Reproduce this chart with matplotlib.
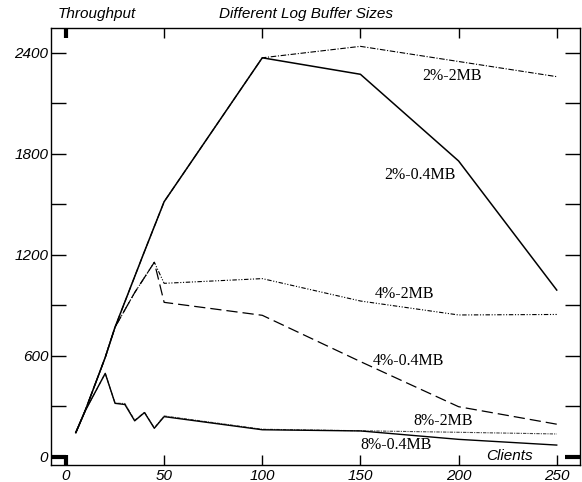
import numpy as np
import matplotlib
matplotlib.use("Agg")
import matplotlib.pyplot as plt

# clients / throughput
x_2pct = [5, 10, 20, 25, 40, 50, 100, 150, 200, 250]
y_2pct_2mb = [143, 280, 590, 770, 1220, 1515, 2370, 2438, 2348, 2258]
y_2pct_04mb = [143, 280, 590, 770, 1220, 1515, 2370, 2272, 1757, 990]

x_4pct = [5, 10, 20, 25, 35, 45, 50, 100, 150, 200, 250]
y_4pct_2mb = [143, 280, 590, 770, 975, 1155, 1030, 1058, 925, 842, 845]
y_4pct_04mb = [143, 280, 590, 770, 975, 1155, 917, 840, 565, 297, 193]

x_8pct = [5, 10, 15, 20, 25, 30, 35, 40, 45, 50, 100, 150, 200, 250]
y_8pct_2mb = [143, 277, 386, 495, 318, 316, 216, 264, 171, 242, 163, 154, 145, 135]
y_8pct_04mb = [143, 277, 386, 495, 317, 310, 213, 262, 169, 238, 160, 153, 103, 69]

x_ticks = [0, 50, 100, 150, 200, 250]
y_ticks = [0, 600, 1200, 1800, 2400]

line_labels = ["2%-2MB", "2%-0.4MB", "4%-2MB", "4%-0.4MB", "8%-2MB", "8%-0.4MB"]
label_pos = [(196.6, 2262), (180.3, 1674), (172.7, 967), (174.5, 569), (192, 212), (168, 70)]

sans = "Liberation Sans"
serif = "Liberation Serif"

fig = plt.figure(figsize=(5.82, 4.82), dpi=100)
ax = fig.add_axes([0.0876, 0.0353, 0.9098, 0.9073])

ax.plot(x_2pct, y_2pct_2mb, color="black", lw=0.8, ls=(0, (5, 1.5, 1, 1.5)))
ax.plot(x_2pct, y_2pct_04mb, color="black", lw=1.1)
ax.plot(x_4pct, y_4pct_2mb, color="black", lw=0.8, ls=(0, (4, 1.5, 1, 1.5, 1, 1.5)))
ax.plot(x_4pct, y_4pct_04mb, color="black", lw=0.9, ls=(0, (9, 4)))
ax.plot(x_8pct, y_8pct_2mb, color="#444444", lw=0.8, ls=(0, (3, 1, 1, 1)))
ax.plot(x_8pct, y_8pct_04mb, color="black", lw=1.0)

for lab, (lx, ly) in zip(line_labels, label_pos):
    ax.text(lx, ly, lab, fontfamily=serif, fontsize=11.5, ha="center", va="center")

ax.set_xlim(-7.64, 262.1)
ax.set_ylim(-49.3, 2549)

ax.set_xticks(x_ticks)
ax.set_yticks(y_ticks)
ax.set_yticks(np.arange(300, 2600, 600), minor=True)
ax.set_xticklabels([str(v) for v in x_ticks], fontfamily=sans, style="italic", fontsize=11)
ax.set_yticklabels([str(v) for v in y_ticks], fontfamily=sans, style="italic", fontsize=11)

ax.tick_params(axis="x", which="major", direction="in", length=7.2, width=1,
               top=True, bottom=True, pad=3)
ax.tick_params(axis="y", which="both", direction="in", length=10.8, width=1,
               left=True, right=True, pad=2)

# the origin ticks are drawn heavy
ax.xaxis.get_major_ticks()[0].tick1line.set_markeredgewidth(3)
ax.xaxis.get_major_ticks()[0].tick2line.set_markeredgewidth(3)
ax.yaxis.get_major_ticks()[0].tick1line.set_markeredgewidth(3)
ax.yaxis.get_major_ticks()[0].tick2line.set_markeredgewidth(3)

for sp in ax.spines.values():
    sp.set_linewidth(1)

fig.text(58 / 582, 1 - 14 / 482, "Throughput", fontfamily=sans, style="italic",
         fontsize=11, ha="left", va="center")
fig.text(306 / 582, 1 - 14 / 482, "Different Log Buffer Sizes", fontfamily=sans,
         style="italic", fontsize=11, ha="center", va="center")
fig.text(509 / 582, 1 - 456 / 482, "Clients", fontfamily=sans, style="italic",
         fontsize=11, ha="center", va="center")

fig.savefig("out.png", dpi=100)
